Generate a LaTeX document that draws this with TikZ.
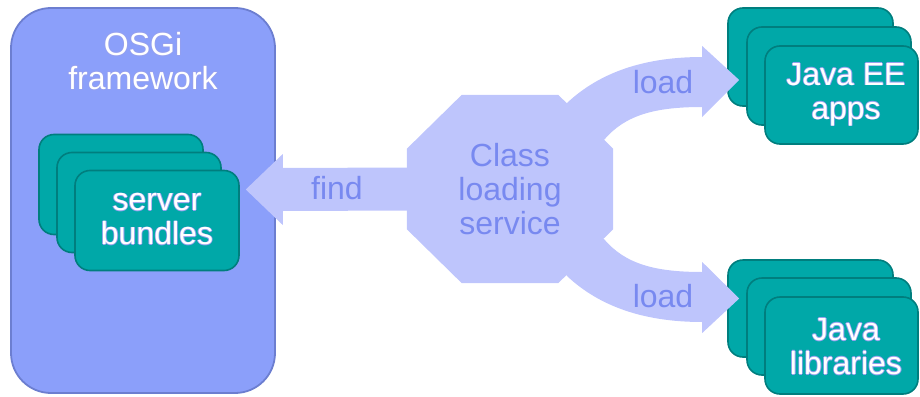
\documentclass[tikz,border=0pt]{standalone}
\usepackage{fontspec}
\setmainfont{Liberation Sans}
\usetikzlibrary{calc}

\definecolor{fwfill}{RGB}{139,159,250}
\definecolor{fwedge}{RGB}{108,126,208}
\definecolor{softblue}{RGB}{190,197,252}
\definecolor{labelblue}{RGB}{120,137,240}
\definecolor{cardfill}{RGB}{0,168,168}
\definecolor{cardedge}{RGB}{0,126,126}
\definecolor{halo}{RGB}{150,160,238}

% white lettering with a thin blue halo
\newcommand\haloline[1]{\leavevmode
  \rlap{\kern0.8pt\textcolor{halo}{#1}}%
  \rlap{\kern-0.8pt\textcolor{halo}{#1}}%
  \rlap{\raisebox{0.8pt}{\textcolor{halo}{#1}}}%
  \rlap{\raisebox{-0.8pt}{\textcolor{halo}{#1}}}%
  \textcolor{white}{#1}}

\begin{document}
\begin{tikzpicture}[x=1pt,y=-1pt,
  bigtext/.style={font=\fontsize{32}{34}\selectfont, align=center, inner sep=0pt},
  framebox/.style={draw=fwedge, line width=1.8pt, fill=fwfill, rounded corners=40pt,
    minimum width=264pt, minimum height=385pt, inner sep=0pt},
  card/.style={draw=cardedge, line width=1.6pt, fill=cardfill, rounded corners=15pt,
    minimum width=164pt, minimum height=100pt, inner sep=0pt},
  flow/.style={fill=softblue},
  flowlabel/.style={bigtext, text=labelblue},
  cardlabel/.style={bigtext}
]
\useasboundingbox (0,0) rectangle (920,396);

% OSGi framework container
\node[framebox] (osgi) at (143,200.5) {};
\node[cardlabel] (osgititle) at (143,61) {\haloline{OSGi}\\\haloline{framework}};

% server bundles stack
\node[card] (sb1) at (121,184.5) {};
\node[card] (sb2) at (139,202.5) {};
\node[card] (sb3) at (157,220.5) {};
\node[cardlabel] (sbtext) at (157,219.5) {\haloline{server}\\\haloline{bundles}};

% Java EE apps stack
\node[card, minimum width=165pt, minimum height=98pt] (ee1) at (810.5,57) {};
\node[card, minimum width=164pt, minimum height=98pt] (ee2) at (829,76) {};
\node[card, minimum width=153pt, minimum height=98pt] (ee3) at (841.5,95) {};

% Java libraries stack
\node[card, minimum width=165pt, minimum height=97pt] (lib1) at (810.5,308.5) {};
\node[card, minimum width=164pt, minimum height=97pt] (lib2) at (829,326.5) {};
\node[card, minimum width=153pt, minimum height=97pt] (lib3) at (841.5,345.5) {};

% class loading service: octagonal body
\node[minimum width=206pt, minimum height=188pt, inner sep=0pt] (cls) at (510,189) {};
\fill[flow] ($(cls.north west)+(55,0)$) -- ($(cls.north east)+(-55,0)$)
  -- ($(cls.north east)+(0,54)$) -- ($(cls.south east)+(0,-54)$)
  -- ($(cls.south east)+(-55,0)$) -- ($(cls.south west)+(55,0)$)
  -- ($(cls.south west)+(0,-54)$) -- ($(cls.north west)+(0,54)$) -- cycle;

% find arrow towards the bundles
\coordinate (findtip) at ($(sb3.east)+(6,-31)$);
\fill[flow] ($(cls.west)+(5,-21.5)$) -- ($(findtip)+(37,-21.5)$) -- ($(findtip)+(37,-35.5)$)
  -- (findtip) -- ($(findtip)+(37,35.5)$) -- ($(findtip)+(37,21.5)$)
  -- ($(cls.west)+(5,21.5)$) -- cycle;

% load arrows towards the right-hand stacks
\coordinate (uptip) at ($(ee1.west)+(12,23)$);
\coordinate (lowtip) at ($(lib1.west)+(12,-10)$);
\fill[flow] (567,103) .. controls (600,72) and (645,57) .. ($(uptip)+(-37,-23)$)
  -- ($(uptip)+(-37,-34)$) -- (uptip) -- ($(uptip)+(-37,37)$) -- ($(uptip)+(-37,27)$)
  .. controls (655,107) and (625,115) .. (604,140) -- (cls.center) -- cycle;
\fill[flow] (567,276) .. controls (600,307) and (645,322) .. ($(lowtip)+(-37,23.5)$)
  -- ($(lowtip)+(-37,34.5)$) -- (lowtip) -- ($(lowtip)+(-37,-36.5)$) -- ($(lowtip)+(-37,-26.5)$)
  .. controls (655,272) and (625,264) .. (604,239) -- (cls.center) -- cycle;

% text drawn above the filled shapes
\node[flowlabel] (clstext) at (cls.center) {Class\\loading\\service};
\node[flowlabel] (findlabel) at (337,188) {find};
\node[flowlabel] (loadup) at (663,82) {load};
\node[flowlabel] (loaddown) at (663,296) {load};
\node[cardlabel] (eetext) at (846,94.5) {\haloline{Java EE}\\\haloline{apps}};
\node[cardlabel] (libtext) at (846,346.5) {\haloline{Java}\\\haloline{libraries}};
\end{tikzpicture}
\end{document}
